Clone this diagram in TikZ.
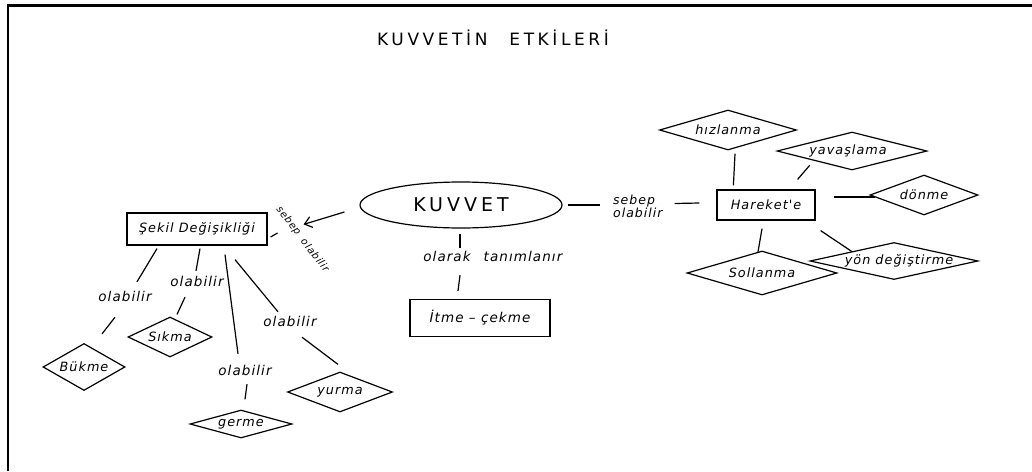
\documentclass[tikz,border=0pt]{standalone}
\usepackage{fontspec}
\setmainfont{DejaVu Sans}
\newfontfamily\handfont{DejaVu Sans}[LetterSpace=8]
\newfontfamily\capsfont{DejaVu Sans}[LetterSpace=21]
\usetikzlibrary{shapes.geometric,calc,arrows.meta}
\begin{document}
\begin{tikzpicture}[x=1pt,y=-1pt,
  every node/.style={font=\handfont\itshape\fontsize{12.8}{13}\selectfont},
  lbl/.style={inner sep=0pt, text height=9pt, text depth=3pt,
              font=\handfont\itshape\fontsize{13.5}{14}\selectfont},
  slbl/.style={inner sep=0pt, rotate=-52, font=\handfont\itshape\fontsize{10}{10}\selectfont},
  box/.style={draw, rectangle, inner sep=0pt, line width=1.2pt},
  dia/.style={draw, diamond, inner sep=0pt, line width=1.2pt},
  link/.style={line width=1.2pt},
]
\fill[white] (0,0) rectangle (1032,471);
\useasboundingbox (0,0) rectangle (1032,471);

% page frame (top and left edges)
\draw[line width=2.8pt] (8,471) -- (8,5.5) -- (1032,5.5);

% title
\node[font=\capsfont\fontsize{17}{17}\selectfont] (title) at (493,38) {KUVVETİN\hspace{22pt}ETKİLERİ};

% central concept
\node[ellipse, draw, line width=1.2pt, minimum width=202pt, minimum height=46pt, inner sep=0pt,
      font=\capsfont\fontsize{19}{19}\selectfont] (kuvvet) at (461,205) {KUVVET};
\node[lbl] (olarak) at (447,258) {olarak};
\node[lbl] (tanim) at (523,258) {tanımlanır};
\node[box, minimum width=140pt, minimum height=37pt, font=\handfont\itshape\fontsize{13.5}{14}\selectfont] (itme) at (480,318) {İtme – çekme};

% right branch: motion
\node[inner sep=0pt, align=left, anchor=west, font=\handfont\itshape\fontsize{12.5}{13}\selectfont] (sebR) at (613,206.5) {sebep\\olabilir};
\node[box, minimum width=98pt, minimum height=30pt] (hareket) at (766,205) {Hareket'e};
\node[dia, minimum width=137pt, minimum height=40pt] (hiz) at (728,130) {\makebox[0pt]{hızlanma}};
\node[dia, minimum width=150pt, minimum height=38pt] (yav) at (852,151) {\makebox[0pt]{yavaşlama\hspace{8pt}}};
\node[dia, minimum width=108pt, minimum height=40pt] (donme) at (924,195) {\makebox[0pt]{dönme}};
\node[dia, minimum width=150pt, minimum height=44pt] (sol) at (762,273) {\makebox[0pt]{Sollanma}};
\node[dia, minimum width=168pt, minimum height=37pt] (yon) at (894,261) {\makebox[0pt]{\hspace{10pt}yön değiştirme}};

% left branch: change of shape
\node[box, minimum width=140pt, minimum height=32pt] (sekil) at (197,229) {Şekil Değişikliği};
\node[slbl] (sebL) at (288.5,221) {sebep};
\node[slbl] (olL) at (315.5,255) {olabilir};
\node[lbl] (ol1) at (125,298) {olabilir};
\node[lbl] (ol2) at (197,283) {olabilir};
\node[lbl] (ol3) at (245,372) {olabilir};
\node[lbl] (ol4) at (290,323) {olabilir};
\node[dia, minimum width=82pt, minimum height=47pt] (bukme) at (84,367) {\makebox[0pt]{Bükme}};
\node[dia, minimum width=84pt, minimum height=40pt] (sikma) at (170,337) {\makebox[0pt]{Sıkma}};
\node[dia, minimum width=102pt, minimum height=28pt] (germe) at (241,424) {\makebox[0pt]{germe}};
\node[dia, minimum width=105pt, minimum height=40pt] (yurma) at (340,392) {\makebox[0pt]{yurma}};

% connectors: centre
\draw[link] ($(kuvvet.south)+(-1,5)$) -- ($(olarak.north)+(13,-4)$);
\draw[link] ($(olarak.south)+(13,11)$) -- ($(itme.north)+(-22,-8)$);

% connectors: right
\draw[link] ($(kuvvet.east)+(5,0)$) -- ($(sebR.west)+(-13,-1.5)$);
\draw[link] ($(sebR.east)+(12,-3)$) -- ($(hareket.west)+(-17,-2)$);
\draw[link] ($(hareket.north west)+(17,-4)$) -- ($(hiz.south)+(7,3)$);
\draw[link] ($(hareket.north east)+(-18,-10)$) -- ($(yav.south west)+(-4.5,4.5)$);
\draw[link] ($(hareket.east)+(18,-8)$) -- ($(donme.west)+(6,2)$);
\draw[link] ($(hareket.south)+(-4,8)$) -- ($(sol.north)+(-4,1.5)$);
\draw[link] ($(hareket.south east)+(5,10)$) -- (yon.north west);

% connectors: left
\draw[link, -{Straight Barb[length=7pt,width=11pt]}] ($(kuvvet.west)+(-15,7)$) -- ($(sekil.north east)+(36,12)$);
\draw[link] ($(sekil.east)+(3,8)$) -- ($(sebL.center)+(-11,12)$);
\draw[link] ($(sekil.south)+(-40,3)$) -- ($(ol1.north)+(12,-10)$);
\draw[link] ($(ol1.south)+(-10,13)$) -- ($(bukme.north)+(18,-9)$);
\draw[link] ($(sekil.south)+(3,3)$) -- ($(ol2.north)+(-1,-6)$);
\draw[link] ($(ol2.south)+(-12,8)$) -- ($(sikma.north)+(7,-2)$);
\draw[link] ($(sekil.south)+(28,9)$) -- ($(ol3.north)+(-7,-12)$);
\draw[link] ($(ol3.south)+(2,6)$) -- ($(germe.north)+(4,-10)$);
\draw[link] ($(sekil.south)+(38,14)$) -- ($(ol4.north)+(-12,-5)$);
\draw[link] ($(ol4.south)+(12,8)$) -- ($(yurma.north)+(-2,-7)$);
\end{tikzpicture}
\end{document}
